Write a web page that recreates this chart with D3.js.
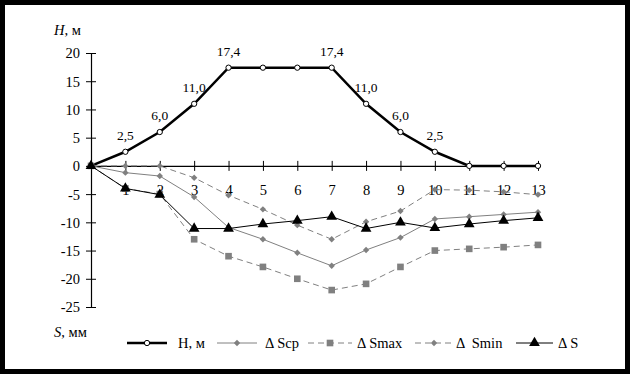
<!DOCTYPE html>
<html>
<head>
<meta charset="utf-8">
<script src="https://cdn.jsdelivr.net/npm/d3@7"></script>
<style>
  html, body { margin: 0; padding: 0; background: #000; }
  #chart { width: 630px; height: 374px; }
  text { font-family: "Liberation Serif", "Times New Roman", serif; fill: #000; }
</style>
</head>
<body>
<div id="chart"></div>
<script>
// Chart data
const stations = [0, 1, 2, 3, 4, 5, 6, 7, 8, 9, 10, 11, 12, 13];
const hValues = [0, 2.5, 6.0, 11.0, 17.4, 17.4, 17.4, 17.4, 11.0, 6.0, 2.5, 0, 0, 0];
const hLabels = ['', '2,5', '6,0', '11,0', '17,4', '', '', '17,4', '11,0', '6,0', '2,5', '', '', ''];
const sCp = [0, -1.2, -1.8, -5.5, -10.9, -13.0, -15.4, -17.7, -14.9, -12.7, -9.4, -9.0, -8.6, -8.2];
const sMax = [0, -4.0, -5.0, -13.0, -16.0, -17.9, -20.0, -22.0, -20.9, -17.9, -15.0, -14.7, -14.4, -14.0];
const sMin = [0, 0, 0, -2.1, -5.2, -7.7, -10.5, -13.0, -9.9, -8.0, -4.2, -4.3, -4.6, -5.1];
const sDelta = [0, -4.0, -5.1, -11.1, -11.1, -10.3, -9.7, -9.0, -11.1, -10.0, -11.0, -10.3, -9.7, -9.2];
const yTicks = [20, 15, 10, 5, 0, -5, -10, -15, -20, -25];
const xTicks = [1, 2, 3, 4, 5, 6, 7, 8, 9, 10, 11, 12, 13];

const W = 630, H = 374;
const gray = '#808080';

const svg = d3.select('#chart').append('svg')
    .attr('width', W)
    .attr('height', H);

// black frame + white plot area
svg.append('rect').attr('width', W).attr('height', H).attr('fill', '#000');
svg.append('rect')
    .attr('x', 5).attr('y', 5)
    .attr('width', 620).attr('height', 364)
    .attr('fill', '#fff');

const x = d3.scaleLinear().domain([0, 13]).range([91, 538]);
const y = d3.scaleLinear().domain([-25, 20]).range([307, 53]);

// Y axis
const yAxis = svg.append('g')
    .attr('transform', `translate(${x(0)},0)`)
    .call(d3.axisLeft(y).tickValues(yTicks).tickSize(0).tickPadding(11)
        .tickFormat(d => String(d)));
yAxis.select('.domain').attr('stroke', '#000').attr('stroke-width', 1.2);
yAxis.selectAll('.tick line').attr('x1', -5).attr('x2', 5).attr('stroke', '#000');
yAxis.selectAll('.tick text')
    .style('font-size', '14.5px')
    .attr('dy', '0.34em')
    .attr('font-family', '"Liberation Serif", serif');

// X axis (at y = 0)
const xAxis = svg.append('g')
    .attr('transform', `translate(0,${y(0)})`)
    .call(d3.axisBottom(x).tickValues(xTicks).tickSize(0).tickFormat(d => String(d)));
xAxis.select('.domain').attr('stroke', '#000').attr('stroke-width', 1.2);
xAxis.selectAll('.tick line').attr('y1', -5).attr('y2', 5).attr('stroke', '#000');
xAxis.selectAll('.tick text')
    .style('font-size', '14.5px')
    .attr('y', 29)
    .attr('dy', 0)
    .attr('font-family', '"Liberation Serif", serif');

// Axis titles
const hTitle = svg.append('text').attr('x', 54).attr('y', 35).style('font-size', '14.5px');
hTitle.append('tspan').style('font-style', 'italic').text('H');
hTitle.append('tspan').text(', м');

const sTitle = svg.append('text').attr('x', 54).attr('y', 337).style('font-size', '14.5px');
sTitle.append('tspan').style('font-style', 'italic').text('S');
sTitle.append('tspan').text(', мм');

// Series definitions
const series = [
    { name: 'H, м', values: hValues, color: '#000', width: 2.5, dash: null, marker: 'circle' },
    { name: '\u0394 Scp', values: sCp, color: gray, width: 1, dash: null, marker: 'diamond' },
    { name: '\u0394 Smax', values: sMax, color: gray, width: 1, dash: '6,4', marker: 'square' },
    { name: '\u0394  Smin', values: sMin, color: gray, width: 1, dash: '6,4', marker: 'diamond' },
    { name: '\u0394 S', values: sDelta, color: '#000', width: 1, dash: null, marker: 'triangle' }
];

const symbolOf = {
    circle: d3.symbol().type(d3.symbolCircle).size(22),
    diamond: d3.symbol().type(d3.symbolDiamond2).size(26),
    square: d3.symbol().type(d3.symbolSquare).size(44),
    triangle: d3.symbol().type(d3.symbolTriangle).size(50)
};

function drawMarker(g, s, cx, cy) {
    g.append('path')
        .attr('transform', `translate(${cx},${cy})`)
        .attr('d', symbolOf[s.marker]())
        .attr('fill', s.marker === 'circle' ? '#fff' : s.color)
        .attr('stroke', s.color)
        .attr('stroke-width', s.marker === 'circle' ? 1 : 0);
}

const line = d3.line()
    .x((d, i) => x(stations[i]))
    .y(d => y(d));

series.forEach(s => {
    const g = svg.append('g');
    g.append('path')
        .datum(s.values)
        .attr('fill', 'none')
        .attr('stroke', s.color)
        .attr('stroke-width', s.width)
        .attr('stroke-dasharray', s.dash)
        .attr('d', line);
    s.values.forEach((v, i) => drawMarker(g, s, x(stations[i]), y(v)));
});

// H value labels
svg.append('g').selectAll('text')
    .data(hValues)
    .enter()
    .append('text')
    .attr('x', (d, i) => x(stations[i]))
    .attr('y', d => y(d) - 12)
    .attr('text-anchor', 'middle')
    .style('font-size', '13.5px')
    .text((d, i) => hLabels[i]);

// Legend
const legendItems = [
    { x1: 127, x2: 167, tx: 178 },
    { x1: 217, x2: 257, tx: 265 },
    { x1: 308, x2: 352, tx: 357 },
    { x1: 415, x2: 453, tx: 456 },
    { x1: 516, x2: 553, tx: 558 }
];
const ly = 343;
series.forEach((s, i) => {
    const p = legendItems[i];
    const g = svg.append('g');
    g.append('line')
        .attr('x1', p.x1).attr('x2', p.x2)
        .attr('y1', ly).attr('y2', ly)
        .attr('stroke', s.color)
        .attr('stroke-width', s.width)
        .attr('stroke-dasharray', s.dash);
    drawMarker(g, s, (p.x1 + p.x2) / 2, ly);
    g.append('text')
        .attr('x', p.tx)
        .attr('y', ly + 5)
        .style('font-size', '14.5px')
        .style('white-space', 'pre')
        .attr('xml:space', 'preserve')
        .text(s.name);
});
</script>
</body>
</html>
